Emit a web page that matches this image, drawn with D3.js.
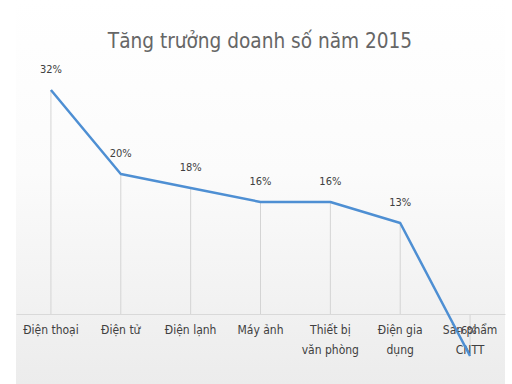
<!DOCTYPE html>
<html><head><meta charset="utf-8">
<script src="https://cdn.jsdelivr.net/npm/d3@7"></script>
<style>body{margin:0;background:#fff}svg{display:block}</style>
</head><body>
<script>
const categories = [["Điện thoại"],["Điện tử"],["Điện lạnh"],["Máy ảnh"],["Thiết bị","văn phòng"],["Điện gia","dụng"],["Sản phẩm","CNTT"]];
const values = [32, 20, 18, 16, 16, 13, -6];
const valueLabels = ["32%","20%","18%","16%","16%","13%","-6%"];
const title = "Tăng trưởng doanh số năm 2015";

const W = 512, H = 384;
const svg = d3.select("body").append("svg").attr("width", W).attr("height", H);
const defs = svg.append("defs");
const g = defs.append("linearGradient").attr("id","bg").attr("x1",0).attr("y1",0).attr("x2",0).attr("y2",1);
g.append("stop").attr("offset","0%").attr("stop-color","#ffffff");
g.append("stop").attr("offset","45%").attr("stop-color","#fbfbfb");
g.append("stop").attr("offset","100%").attr("stop-color","#ececec");
svg.append("rect").attr("x",16).attr("y",0).attr("width",489).attr("height",H).attr("fill","url(#bg)");

const x = d3.scaleBand().domain(d3.range(categories.length)).range([16, 505]);
const y = d3.scaleLinear().domain([-10, 35]).range([384, 69]);
const cx = i => x(i) + x.bandwidth()/2;

svg.append("text").attr("x", 260).attr("y", 48).attr("text-anchor","middle")
  .attr("font-family","'DejaVu Sans Condensed', 'DejaVu Sans', sans-serif").attr("font-size", 20.6)
  .attr("fill","#666666").text(title);

// drop lines
svg.append("g").selectAll("line").data(values).join("line")
  .attr("x1",(d,i)=>cx(i)).attr("x2",(d,i)=>cx(i))
  .attr("y1", d=>y(d)).attr("y2", y(0))
  .attr("stroke","#d4d4d4").attr("stroke-width",1);

// axis
const axis = svg.append("g").attr("transform",`translate(0,${y(0)})`)
  .call(d3.axisBottom(x).tickSize(0).tickFormat(""));
axis.select(".domain").attr("stroke","#d9d9d9");

// category labels
const cl = svg.append("g").selectAll("text").data(categories).join("text")
  .attr("x",(d,i)=>cx(i)).attr("y",334).attr("text-anchor","middle")
  .attr("font-family","'DejaVu Sans Condensed', 'DejaVu Sans', sans-serif").attr("font-size",12)
  .attr("fill","#404040");
cl.selectAll("tspan").data(d=>d).join("tspan")
  .attr("x",function(){return this.parentNode.getAttribute("x");})
  .attr("dy",(d,i)=>i===0?0:20).text(d=>d);

// line
svg.append("path").datum(values)
  .attr("d", d3.line().x((d,i)=>cx(i)).y(d=>y(d)))
  .attr("fill","none").attr("stroke","#4e8fd3").attr("stroke-width",2.5).attr("stroke-linejoin","round");

// value labels
svg.append("g").selectAll("text").data(values).join("text")
  .attr("x",(d,i)=>cx(i) - (d<0?3:0)).attr("y",(d,i)=> d<0 ? y(d)-22 : y(d)-17)
  .attr("text-anchor","middle")
  .attr("font-family","'DejaVu Sans Condensed', 'DejaVu Sans', sans-serif").attr("font-size",11)
  .attr("fill","#404040").text((d,i)=>valueLabels[i]);
</script>
</body></html>
